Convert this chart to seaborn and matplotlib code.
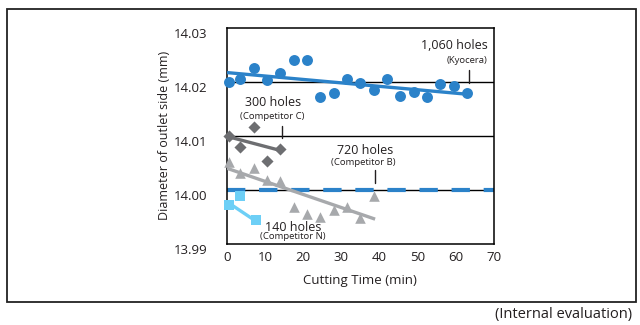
import matplotlib
matplotlib.use("Agg")
import matplotlib.pyplot as plt
from matplotlib.patches import Rectangle
from matplotlib.transforms import ScaledTranslation
import pandas as pd
import seaborn as sns

# Outlet-side hole diameter measured against cutting time
kyocera_t = [0.5, 3.5, 7, 10.5, 14, 17.5, 21, 24.5, 28, 31.5, 35, 38.5, 42, 45.5, 49, 52.5, 56, 59.5, 63]
kyocera_d = [14.0199, 14.0206, 14.0225, 14.0203, 14.0216, 14.0240, 14.0240, 14.0172, 14.0179, 14.0206,
             14.0197, 14.0184, 14.0206, 14.0174, 14.0182, 14.0171, 14.0196, 14.0192, 14.0180]

comp_c_t = [0.5, 3.5, 7, 10.5, 14]
comp_c_d = [14.0099, 14.0080, 14.0117, 14.0053, 14.0075]

comp_b_t = [0.5, 3.5, 7, 10.5, 14, 17.5, 21, 24.5, 28, 31.5, 35, 38.5]
comp_b_d = [14.0052, 14.0032, 14.0040, 14.0018, 14.0017, 13.9968, 13.9956, 13.9950, 13.9963,
            13.9968, 13.9948, 13.9988]

comp_n_t = [0.5, 3.5, 7.5]
comp_n_d = [13.9972, 13.9988, 13.9944]

# Trend lines (start/end of each tool's wear trend)
kyocera_trend_t = [0, 63]
kyocera_trend_d = [14.0217, 14.0177]
comp_c_trend_t = [0, 14]
comp_c_trend_d = [14.0099, 14.0073]
comp_b_trend_t = [0, 38.9]
comp_b_trend_d = [14.0040, 13.9946]
comp_n_trend_t = [0, 7]
comp_n_trend_d = [13.9978, 13.9945]

nominal_d = 14.00

x_ticks = [0, 10, 20, 30, 40, 50, 60, 70]
y_ticks = [13.99, 14.00, 14.01, 14.02, 14.03]
y_tick_labels = ["13.99", "14.00", "14.01", "14.02", "14.03"]

BLUE = "#2b82c9"
DARK_GREY = "#6d6e71"
LIGHT_GREY = "#a7a9ac"
LIGHT_BLUE = "#6dcff6"
INK = "#231f20"

sns.set_theme(style="white")
plt.rcParams["font.family"] = ["Open Sans", "DejaVu Sans"]
plt.rcParams["text.color"] = INK

fig = plt.figure(figsize=(6.4, 3.25), dpi=100)
ax = fig.add_axes([0.3547, 0.2492, 0.4164, 0.6656])

# outer frame around the chart
fig.patches.append(Rectangle((0.0117, 0.0708), 0.9820, 0.9015, transform=fig.transFigure,
                             fill=False, edgecolor="#222222", linewidth=1.3, zorder=0))

# horizontal reference rules
for yv in [14.00, 14.01, 14.02]:
    ax.axhline(yv, color="black", linewidth=1.0, zorder=1)
ax.axhline(nominal_d, color=BLUE, linewidth=3.0, dashes=(4.4, 3.3), zorder=2)

series = [
    (comp_n_t, comp_n_d, comp_n_trend_t, comp_n_trend_d, LIGHT_BLUE, "s", 42),
    (comp_b_t, comp_b_d, comp_b_trend_t, comp_b_trend_d, LIGHT_GREY, "^", 58),
    (comp_c_t, comp_c_d, comp_c_trend_t, comp_c_trend_d, DARK_GREY, "D", 38),
    (kyocera_t, kyocera_d, kyocera_trend_t, kyocera_trend_d, BLUE, "o", 62),
]
for t, d, tt, td, col, mk, sz in series:
    pts = pd.DataFrame({"t": t, "d": d})
    sns.scatterplot(data=pts, x="t", y="d", ax=ax, color=col, marker=mk, s=sz,
                    linewidth=0, zorder=3, clip_on=False)
    trend = pd.DataFrame({"t": tt, "d": td})
    sns.lineplot(data=trend, x="t", y="d", ax=ax, color=col, linewidth=2.4,
                 zorder=4, solid_capstyle="butt")

# leader ticks and annotations
leaders = [(63.5, 14.0222, 14.0198), (14.4, 14.0118, 14.0096), (38.8, 14.0037, 14.0012)]
for lx, y0, y1 in leaders:
    ax.plot([lx, lx], [y0, y1], color=INK, linewidth=1.0, zorder=5)

ax.text(68.4, 14.0267, "1,060 holes", ha="right", va="center", fontsize=9)
ax.text(68.4, 14.0239, "(Kyocera)", ha="right", va="center", fontsize=6.8)
ax.text(12.1, 14.0161, "300 holes", ha="center", va="center", fontsize=9)
ax.text(11.9, 14.0135, "(Competitor C)", ha="center", va="center", fontsize=6.8)
ax.text(36.3, 14.0073, "720 holes", ha="center", va="center", fontsize=9)
ax.text(35.9, 14.0050, "(Competitor B)", ha="center", va="center", fontsize=6.8)
ax.text(17.5, 13.9931, "140 holes", ha="center", va="center", fontsize=9)
ax.text(17.2, 13.9913, "(Competitor N)", ha="center", va="center", fontsize=6.8)

ax.set_xlim(0, 70)
ax.set_ylim(13.99, 14.03)
ax.set_xticks(x_ticks)
ax.set_yticks(y_ticks)
ax.set_yticklabels(y_tick_labels)
ax.tick_params(axis="x", direction="in", length=5, width=1.0, color="black",
               labelsize=9.5, pad=5, labelcolor=INK)
ax.tick_params(axis="y", length=0, labelsize=9.5, pad=14, labelcolor=INK)
for lab in ax.get_yticklabels():
    lab.set_transform(lab.get_transform() + ScaledTranslation(0, -3.5 / 72, fig.dpi_scale_trans))

for sp in ax.spines.values():
    sp.set_color("black")
    sp.set_linewidth(1.1)

ax.set_xlabel("Cutting Time (min)", fontsize=9.5, labelpad=7, color=INK)
ax.set_ylabel("Diameter of outlet side (mm)", fontsize=9, labelpad=2, color=INK)

fig.text(0.988, 0.031, "(Internal evaluation)", ha="right", va="center", fontsize=10.5)

fig.savefig("out.png", dpi=100)
